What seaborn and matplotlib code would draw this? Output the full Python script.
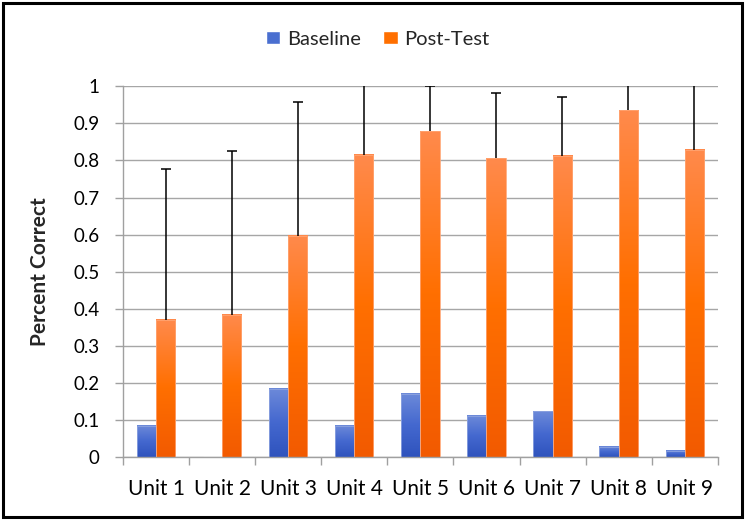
import numpy as np
import pandas as pd
import seaborn as sns
import matplotlib.pyplot as plt
from matplotlib.colors import LinearSegmentedColormap
from matplotlib.patches import Rectangle

# values
units = ['Unit 1', 'Unit 2', 'Unit 3', 'Unit 4', 'Unit 5', 'Unit 6', 'Unit 7', 'Unit 8', 'Unit 9']
baseline = [0.085, 0.0, 0.184, 0.085, 0.171, 0.112, 0.123, 0.028, 0.017]
post_test = [0.371, 0.384, 0.597, 0.816, 0.879, 0.806, 0.813, 0.935, 0.828]
post_err = [0.407, 0.442, 0.361, 0.25, 0.121, 0.176, 0.159, 0.15, 0.25]
y_ticks = [0, 0.1, 0.2, 0.3, 0.4, 0.5, 0.6, 0.7, 0.8, 0.9, 1]

df = pd.DataFrame({
    'Unit': units * 2,
    'Percent': baseline + post_test,
    'Group': ['Baseline'] * len(units) + ['Post-Test'] * len(units),
})

sns.set_style('white')
plt.rcParams['font.family'] = ['Lato', 'DejaVu Sans']

fig = plt.figure(figsize=(7.5, 5.23), dpi=100)
ax = fig.add_axes([0.164, 0.126, 0.793, 0.709])

sns.barplot(data=df, x='Unit', y='Percent', hue='Group',
            palette=['#4a6fd0', '#ff6f00'], width=0.58, gap=0,
            saturation=1, errorbar=None, ax=ax, zorder=2)

# Excel-style vertical gradients on each bar
grad_cmaps = [
    LinearSegmentedColormap.from_list('blue', ['#2f53bd', '#4468cf', '#6d8ad9']),
    LinearSegmentedColormap.from_list('orange', ['#f25a00', '#ff6f00', '#ff8a4c']),
]
edge_cols = ['#8ea4e0', '#ffa573']
grad = np.linspace(0, 1, 256).reshape(-1, 1)
for cont, cmap, ec in zip(ax.containers, grad_cmaps, edge_cols):
    for bar in cont:
        h = bar.get_height()
        if h <= 0:
            continue
        x0 = bar.get_x()
        ax.imshow(grad, extent=[x0, x0 + bar.get_width(), 0, h], origin='lower',
                  cmap=cmap, aspect='auto', zorder=2.1)
        bar.set_facecolor('none')
        bar.set_edgecolor(ec)
        bar.set_linewidth(0.6)
        bar.set_zorder(2.2)

# upward error bars on the post-test bars
xs = [b.get_x() + b.get_width() / 2 for b in ax.containers[1]]
eb = ax.errorbar(xs, post_test, yerr=[np.zeros(len(units)), post_err], fmt='none',
                 ecolor='black', elinewidth=1.1, capsize=3.6, capthick=1.1, zorder=4)
eb[1][0].set_visible(False)  # no cap at the bar top

ax.set_xlim(-0.5, len(units) - 0.5)
ax.set_ylim(0, 1)
ax.set_yticks(y_ticks)
ax.set_yticklabels([f'{t:g}' for t in y_ticks])
ax.set_xticks(np.arange(-0.5, len(units), 1), minor=True)

ax.set_axisbelow(True)
ax.yaxis.grid(True, color='#a6a6a6', lw=1)
for s in ['top', 'right']:
    ax.spines[s].set_visible(False)
for s in ['left', 'bottom']:
    ax.spines[s].set_color('#a0a0a0')
    ax.spines[s].set_linewidth(1)

ax.tick_params(axis='y', left=True, length=5.8, width=1, color='#a0a0a0',
               pad=11, labelsize=13.5, labelcolor='black')
ax.tick_params(axis='x', which='major', length=0, pad=16, labelsize=15,
               labelcolor='black')
ax.tick_params(axis='x', which='minor', bottom=True, length=5.8, width=1,
               color='#a0a0a0')

ax.set_xlabel('')
ax.set_ylabel('Percent Correct', fontsize=15, fontweight='bold', labelpad=17)

handles, labels = ax.get_legend_handles_labels()
ax.legend(handles, labels, loc='center', bbox_to_anchor=(0.504, 0.925),
          bbox_transform=fig.transFigure, ncol=2, frameon=False, fontsize=14.5,
          handlelength=0.7, handleheight=0.65, handletextpad=0.35,
          columnspacing=1.1)

# black frame round the whole picture
fig.patches.append(Rectangle((0.004, 0.011), 0.985, 0.983, transform=fig.transFigure,
                             fill=False, lw=2.2, edgecolor='black'))

fig.savefig('out.png', dpi=100)
